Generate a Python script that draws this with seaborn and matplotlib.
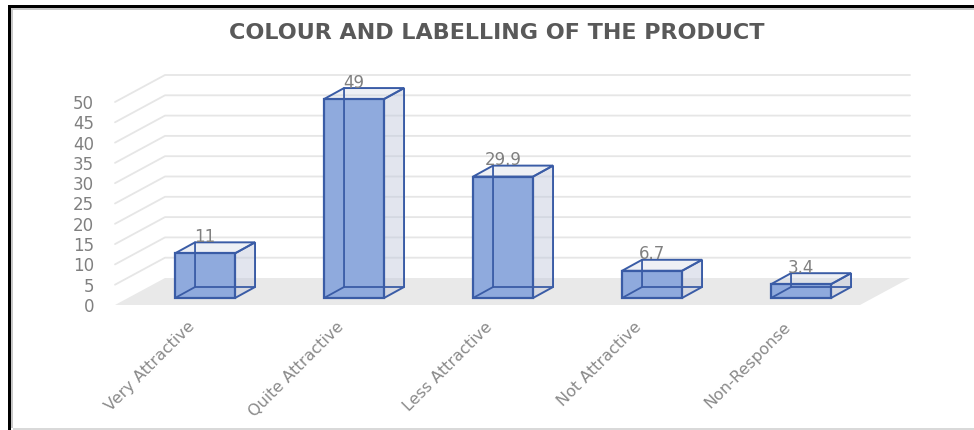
import matplotlib
matplotlib.use("Agg")
import matplotlib.pyplot as plt
from matplotlib.patches import Polygon, Rectangle
from matplotlib.lines import Line2D
import pandas as pd
import seaborn as sns

# ---- data ----
categories = ["Very Attractive", "Quite Attractive", "Less Attractive",
              "Not Attractive", "Non-Response"]
values = [11, 49, 29.9, 6.7, 3.4]
value_labels = ["11", "49", "29.9", "6.7", "3.4"]
y_ticks = [0, 5, 10, 15, 20, 25, 30, 35, 40, 45, 50]
title = "COLOUR AND LABELLING OF THE PRODUCT"

# ---- styling ----
W, H, DPI = 974, 430, 100
FRONT = "#8faadd"
EDGE = "#3a5ca6"
SIDE = (0.75, 0.78, 0.86, 0.45)
TOP = (0.78, 0.81, 0.88, 0.30)
FLOOR = "#e9e9e9"
GRID = "#e6e6e6"
TEXT = "#808080"

sns.set_theme(style="white")
plt.rcParams["font.family"] = ["DejaVu Sans"]

fig = plt.figure(figsize=(W / DPI, H / DPI), dpi=DPI)
fig.patch.set_facecolor("white")


def px_rect(l, t, r, b):
    return [l / W, 1 - b / H, (r - l) / W, (b - t) / H]


# plot area = front plane of the 3-D box
AX_L, AX_T, AX_R, AX_B = 115, 102, 860, 305
ax = fig.add_axes(px_rect(AX_L, AX_T, AX_R, AX_B))

df = pd.DataFrame({"category": categories, "value": values})

XMIN, XMAX = -0.517, 4.483
YMIN, YMAX = 0, 50
dxp = (XMAX - XMIN) / (AX_R - AX_L)   # data units per pixel (x)
dyp = (YMAX - YMIN) / (AX_B - AX_T)   # data units per pixel (y)

bar_w = 60 * dxp
sns.barplot(data=df, x="category", y="value", ax=ax, width=bar_w,
            color=FRONT, saturation=1, edgecolor=EDGE, linewidth=1.6,
            zorder=3)
ax.set_xlim(XMIN, XMAX)
ax.set_ylim(YMIN, YMAX)
ax.set_xlabel("")
ax.set_ylabel("")
for s in ax.spines.values():
    s.set_visible(False)
ax.patch.set_alpha(0)

# depth vectors (pixels -> data units)
box_dx, box_dy = 50 * dxp, 27 * dyp      # full box depth
fr_dx, fr_dy = 13 * dxp, 7 * dyp         # bar front plane inside the box
bd_dx, bd_dy = 20 * dxp, 11 * dyp        # bar depth

# floor
ax.add_patch(Polygon([(XMIN, 0), (XMAX, 0), (XMAX + box_dx, box_dy),
                      (XMIN + box_dx, box_dy)], closed=True,
                     facecolor=FLOOR, edgecolor="none", zorder=0,
                     clip_on=False))

# side-wall and back-wall gridlines
for v in y_ticks[1:]:
    ax.add_line(Line2D([XMIN, XMIN + box_dx, XMAX + box_dx],
                       [v, v + box_dy, v + box_dy], color=GRID, lw=1.3,
                       zorder=0.5, clip_on=False))

# 3-D bars: front faces come from seaborn, depth faces follow their geometry
bars = [p for p in ax.patches if isinstance(p, Rectangle)]
for patch, lab in zip(bars, value_labels):
    x0 = patch.get_x() + fr_dx
    w = patch.get_width()
    h = patch.get_height()
    patch.set_x(x0)
    patch.set_y(fr_dy)
    patch.set_clip_on(False)
    y0 = fr_dy
    x1, y1 = x0 + w, y0 + h
    # right side face
    ax.add_patch(Polygon([(x1, y0), (x1 + bd_dx, y0 + bd_dy),
                          (x1 + bd_dx, y1 + bd_dy), (x1, y1)], closed=True,
                         facecolor=SIDE, edgecolor=EDGE, lw=1.4, zorder=2,
                         clip_on=False))
    # top face
    ax.add_patch(Polygon([(x0, y1), (x1, y1), (x1 + bd_dx, y1 + bd_dy),
                          (x0 + bd_dx, y1 + bd_dy)], closed=True,
                         facecolor=TOP, edgecolor=EDGE, lw=1.4, zorder=2,
                         clip_on=False))
    # hidden edges seen through the translucent front face
    ax.add_line(Line2D([x0, x0 + bd_dx, x0 + bd_dx],
                       [y0, y0 + bd_dy, y1 + bd_dy], color=EDGE, lw=1.3,
                       zorder=4, clip_on=False))
    ax.add_line(Line2D([x0 + bd_dx, x1 + bd_dx],
                       [y0 + bd_dy, y0 + bd_dy], color=EDGE, lw=1.3,
                       zorder=4, clip_on=False))
    # value label
    ax.text(x0 + w / 2, y1 + bd_dy + 0.5 * dyp, lab, ha="center",
            va="baseline", fontsize=12, color=TEXT, zorder=5)

# axis ticks
ax.set_yticks(y_ticks)
ax.set_yticklabels([str(t) for t in y_ticks])
ax.tick_params(axis="y", length=0, pad=15, labelsize=12, labelcolor=TEXT)
ax.set_xticks(range(len(categories)))
ax.set_xticklabels(categories, rotation=45, ha="right",
                   rotation_mode="anchor", va="center")
ax.tick_params(axis="x", length=0, pad=14, labelsize=11.5,
               labelcolor="#8a8a8a")

# title
fig.text(497 / W, 1 - 33 / H, title, ha="center", va="center",
         fontsize=16, fontweight="bold", color="#595959")

# outer frame
def frame_rect(l, t, r, b, color):
    fig.add_artist(Rectangle((l / W, 1 - b / H), (r - l) / W, (b - t) / H,
                             transform=fig.transFigure, facecolor=color,
                             edgecolor="none", zorder=10))

frame_rect(11, 8, 974, 10, "#c8c8c8")
frame_rect(11, 8, 13, 428, "#c8c8c8")
frame_rect(13, 428, 974, 430, "#d9d9d9")
frame_rect(8, 5, 974, 8, "#000000")
frame_rect(8, 5, 11, 430, "#000000")

fig.savefig("out.png", dpi=DPI, facecolor="white")
